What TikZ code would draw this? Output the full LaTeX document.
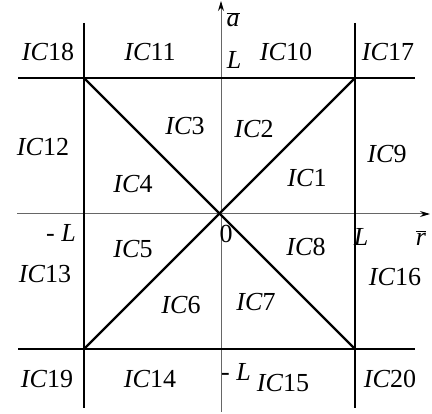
\documentclass[tikz,border=0pt]{standalone}
\usepackage{fontspec}
\setmainfont{Liberation Serif}
\usetikzlibrary{arrows.meta}
\begin{document}
\begin{tikzpicture}[x=1pt,y=-1pt,
  lbl/.style={inner sep=0pt, font=\fontsize{26}{30}\selectfont},
  gridline/.style={line width=2.6pt, line cap=butt},
  diagline/.style={line width=2.3pt},
  axisline/.style={line width=1pt, draw=black!60, -{Stealth[length=10pt,width=6pt,color=black]}}
]
\useasboundingbox (0,0) rectangle (432,414);
% key points
\coordinate (O) at (221,214);
\coordinate (A) at (84,78);
\coordinate (B) at (355,78);
\coordinate (C) at (355,349);
\coordinate (D) at (84,349);
\coordinate (tl) at (18,78);  \coordinate (tr) at (415,78);
\coordinate (bl) at (18,349); \coordinate (br) at (415,349);
\coordinate (vlt) at (84,23); \coordinate (vlb) at (84,408);
\coordinate (vrt) at (355,23); \coordinate (vrb) at (355,408);
\coordinate (xs) at (17,214); \coordinate (xe) at (430,214);
\coordinate (ys) at (221,412); \coordinate (ye) at (221,1);
% axes
\draw[axisline] (xs) -- (xe);
\draw[axisline] (ys) -- (ye);
% grid lines
\draw[gridline] (tl) -- (tr);
\draw[gridline] (bl) -- (br);
\draw[gridline] (vlt) -- (vlb);
\draw[gridline] (vrt) -- (vrb);
% diagonals
\draw[diagline] (A) -- (C);
\draw[diagline] (B) -- (D);
% labels
\node[lbl] (n18) at (48,52) {\textit{IC}18};
\node[lbl] (n11) at (150,52) {\textit{IC}11};
\node[lbl] (nLt) at (234,60) {\textit{L}};
\node[lbl] (n10) at (286,52) {\textit{IC}10};
\node[lbl] (n17) at (388,52) {\textit{IC}17};
\node[lbl] (na) at (233,20) {$\overline{\hbox{\textit{a}}}$};
\node[lbl] (n3) at (185,126) {\textit{IC}3};
\node[lbl] (n2) at (254,129) {\textit{IC}2};
\node[lbl] (n12) at (43,147) {\textit{IC}12};
\node[lbl] (n9) at (387,154) {\textit{IC}9};
\node[lbl] (n1) at (307,178) {\textit{IC}1};
\node[lbl] (n4) at (133,184) {\textit{IC}4};
\node[lbl] (nLl) at (61,233) {- \textit{L}};
\node[lbl] (n0) at (226,234) {0};
\node[lbl] (nLr) at (361,237) {\textit{L}};
\node[lbl] (nr) at (421,238) {$\overline{\hbox{\textit{r}}}$};
\node[lbl] (n5) at (133,249) {\textit{IC}5};
\node[lbl] (n8) at (306,247) {\textit{IC}8};
\node[lbl] (n13) at (45,274) {\textit{IC}13};
\node[lbl] (n16) at (395,277) {\textit{IC}16};
\node[lbl] (n7) at (256,302) {\textit{IC}7};
\node[lbl] (n6) at (181,305) {\textit{IC}6};
\node[lbl] (n19) at (47,379) {\textit{IC}19};
\node[lbl] (n14) at (150,379) {\textit{IC}14};
\node[lbl] (nLb) at (236,372) {- \textit{L}};
\node[lbl] (n15) at (283,383) {\textit{IC}15};
\node[lbl] (n20) at (390,379) {\textit{IC}20};
\end{tikzpicture}
\end{document}
